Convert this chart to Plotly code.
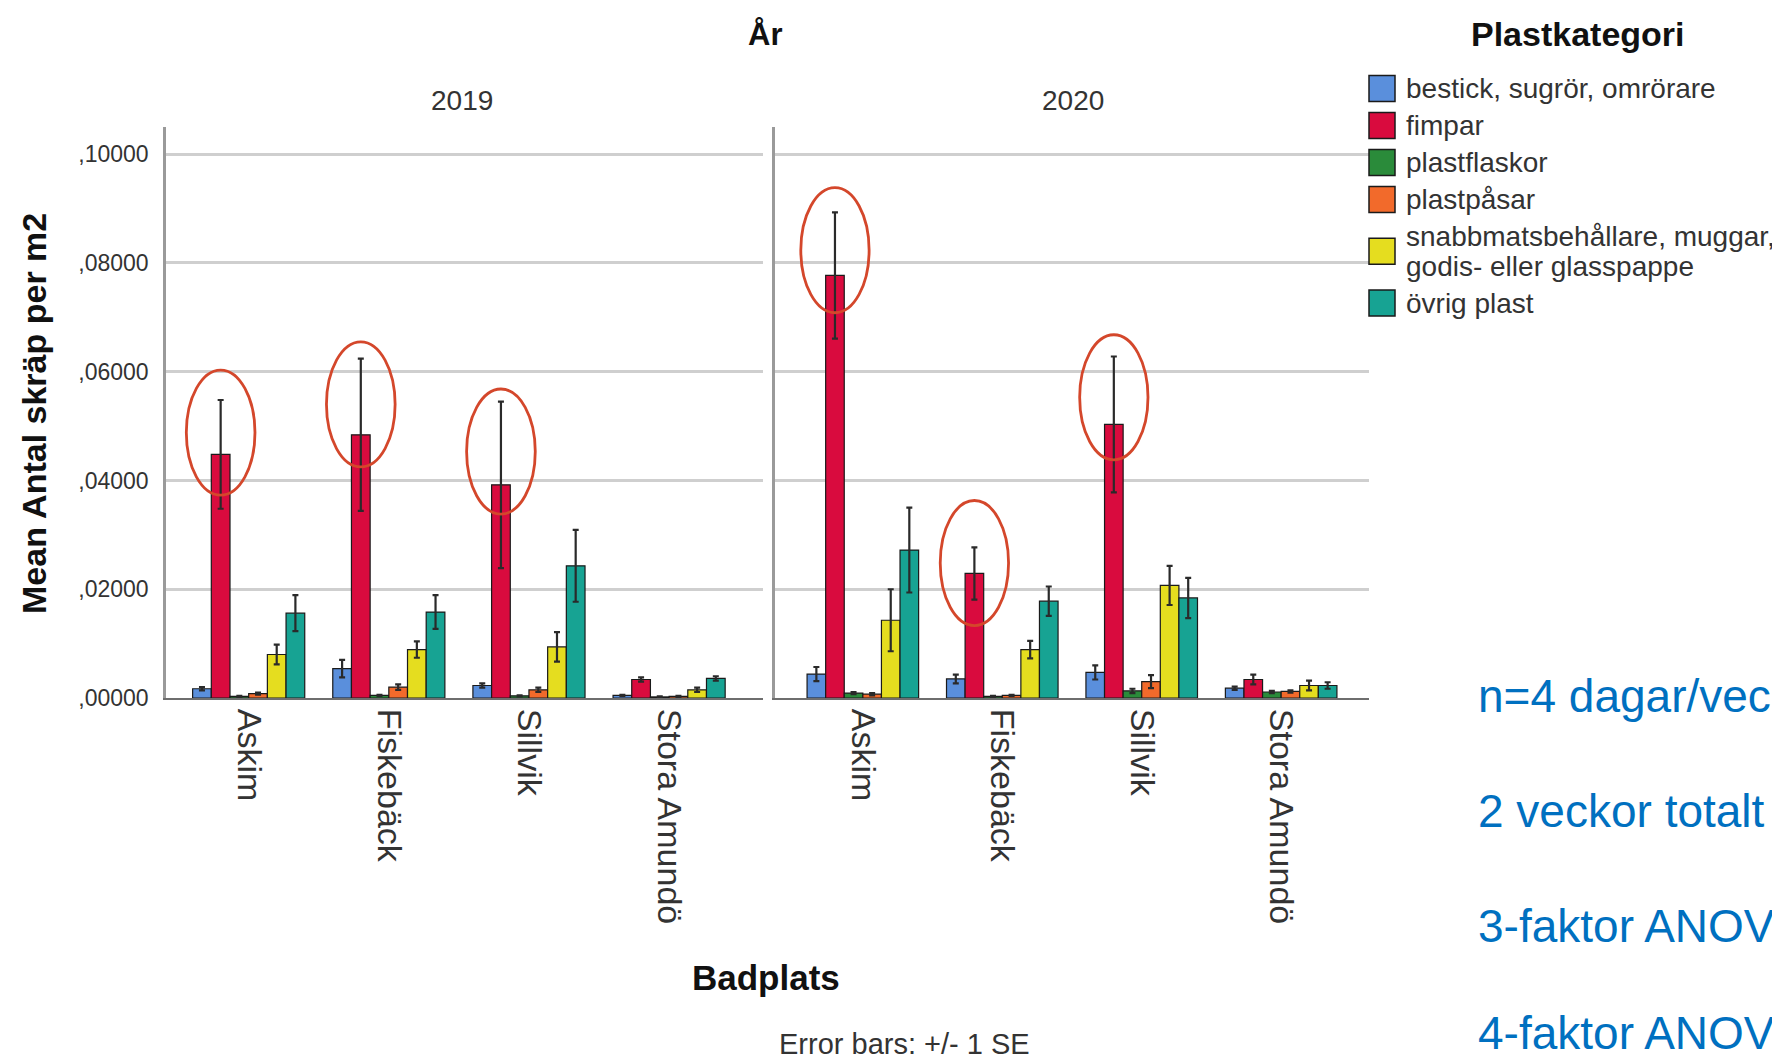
import plotly.graph_objects as go

# ---------------- data ----------------
badplatser = ["Askim", "Fiskebäck", "Sillvik", "Stora Amundö"]
years = ["2019", "2020"]
plastkategorier = [
    "bestick, sugrör, omrörare",
    "fimpar",
    "plastflaskor",
    "plastpåsar",
    "snabbmatsbehållare, muggar,<br>godis- eller glasspappe",
    "övrig plast",
]
colors = ["#5a8fdc", "#d90b3e", "#2a8b3a", "#f26a2b", "#e5dd1f", "#17a393"]

# rows = plastkategori, columns = badplats
means_2019 = [
    [0.0017, 0.0054, 0.0023, 0.0005],
    [0.0448, 0.0484, 0.0392, 0.0034],
    [0.0003, 0.0005, 0.0004, 0.0002],
    [0.0008, 0.0020, 0.0015, 0.0003],
    [0.0080, 0.0089, 0.0094, 0.0015],
    [0.0156, 0.0158, 0.0243, 0.0036],
]
se_2019 = [
    [0.0003, 0.0016, 0.0004, 0.0001],
    [0.0100, 0.0140, 0.0153, 0.0004],
    [0.0001, 0.0001, 0.0001, 0.0001],
    [0.0002, 0.0005, 0.0004, 0.0001],
    [0.0018, 0.0015, 0.0027, 0.0004],
    [0.0033, 0.0031, 0.0066, 0.0004],
]
means_2020 = [
    [0.0044, 0.0035, 0.0047, 0.0018],
    [0.0777, 0.0229, 0.0503, 0.0034],
    [0.0009, 0.0003, 0.0013, 0.0011],
    [0.0007, 0.0005, 0.0030, 0.0012],
    [0.0143, 0.0089, 0.0207, 0.0023],
    [0.0272, 0.0178, 0.0184, 0.0023],
]
se_2020 = [
    [0.0013, 0.0008, 0.0013, 0.0003],
    [0.0116, 0.0048, 0.0125, 0.0009],
    [0.0002, 0.0001, 0.0004, 0.0002],
    [0.0002, 0.0001, 0.0012, 0.0002],
    [0.0057, 0.0016, 0.0036, 0.0009],
    [0.0078, 0.0027, 0.0037, 0.0006],
]

y_tickvals = [0.0, 0.02, 0.04, 0.06, 0.08, 0.10]
y_ticktext = [",00000", ",02000", ",04000", ",06000", ",08000", ",10000"]

# bars highlighted with red ellipses (fimpar)
circled = {"2019": ["Askim", "Fiskebäck", "Sillvik"],
           "2020": ["Askim", "Fiskebäck", "Sillvik"]}
circled_category_index = 1  # fimpar

# side notes (the reference shows them cut at the slide's right edge)
side_notes = ["n=4 dagar/vec", "2 veckor totalt", "3-faktor ANOV", "4-faktor ANOV"]

# ---------------- layout helpers ----------------
W, H = 1780, 1061
PAGE_OFF = 8  # default body margin of the html page
L, R, T, B = 166, 1369, 127, 698  # plot area in screen pixels
FONT = "Liberation Sans, Arial, sans-serif"


def px(x):
    return (x - L) / (R - L)


def py(y):
    return (B - y) / (B - T)


fig = go.Figure()

year_data = {"2019": (means_2019, se_2019, "x", "y"),
             "2020": (means_2020, se_2020, "x2", "y2")}

for yr in years:
    means, ses, xa, ya = year_data[yr]
    for i, cat in enumerate(plastkategorier):
        fig.add_trace(go.Bar(
            x=badplatser, y=means[i],
            error_y=dict(type="data", array=ses[i], color="#2a2a2a",
                         thickness=2.2, width=3),
            marker=dict(color=colors[i], line=dict(color="#1a1a1a", width=1.2)),
            name=cat.replace("<br>", " "), showlegend=False, xaxis=xa, yaxis=ya,
        ))

n_cat = len(plastkategorier)
bargap = 0.2
bar_w = (1 - bargap) / n_cat
offset = -(1 - bargap) / 2 + bar_w * (circled_category_index + 0.5)

shapes = []
for yr in years:
    means, ses, xa, ya = year_data[yr]
    for place in circled[yr]:
        j = badplatser.index(place)
        m = means[circled_category_index][j]
        s = ses[circled_category_index][j]
        cx = j + offset
        cy = m + 0.4 * s
        shapes.append(dict(type="circle", xref=xa, yref=ya,
                           x0=cx - 0.245, x1=cx + 0.245,
                           y0=cy - 0.0115, y1=cy + 0.0115,
                           line=dict(color="#d4472b", width=2.8),
                           layer="above"))


def ann(text, x, y, size, color="#333333", xanchor="center", **kw):
    return dict(text=text, x=px(x), y=py(y), xref="paper", yref="paper",
                xanchor=xanchor, yanchor="middle", showarrow=False,
                font=dict(family=kw.pop("family", FONT), size=size, color=color), **kw)


# manual legend
annotations = []
top = 70
ROW_H = 37
LINE_H = 29.5
for lab, col in zip(plastkategorier, colors):
    lines = lab.split("<br>")
    h = ROW_H + LINE_H * (len(lines) - 1)
    cy = top + h / 2
    shapes.append(dict(type="rect", xref="paper", yref="paper",
                       x0=px(1369), x1=px(1395), y0=py(cy + 13), y1=py(cy - 13),
                       fillcolor=col, line=dict(color="#1a1a1a", width=1.5)))
    first = cy - LINE_H * (len(lines) - 1) / 2
    for k, line in enumerate(lines):
        annotations.append(ann(line, 1404, first + k * LINE_H, 28, xanchor="left"))
    top += h

annotations += [
    ann("<b>Plastkategori</b>", 1578, 34, 34, "#111111"),
    ann("<b>År</b>", 765, 34, 31, "#111111"),
    ann("2019", 462, 100, 28),
    ann("2020", 1073, 100, 28),
    ann("<b>Mean Antal skräp per m2</b>", 34, 414, 34, "#111111", textangle=-90),
    ann("<b>Badplats</b>", 766, 977, 35, "#111111"),
    ann("Error bars: +/- 1 SE", 904, 1044, 29),
]

note_y = [696, 811, 926, 1033]
for txt, yy in zip(side_notes, note_y):
    annotations.append(ann(txt, 1476, yy, 46, "#0070c0", xanchor="left"))

xaxis_common = dict(
    type="category", showline=True, linecolor="#6e6e6e",
    linewidth=2, showgrid=False, zeroline=False, ticks="", tickangle=90,
    tickfont=dict(family=FONT, size=34, color="#333333"), ticklabelstandoff=2,
)
yaxis_common = dict(
    range=[0, 0.105], tickvals=y_tickvals, ticktext=y_ticktext, showgrid=True,
    gridcolor="#cfcfcf", gridwidth=2.5, zeroline=False, showline=True,
    linecolor="#9a9a9a", linewidth=2.5, ticks="",
)

fig.update_layout(
    width=W, height=H,
    margin=dict(l=L - PAGE_OFF, r=W - (R - PAGE_OFF), t=T - PAGE_OFF,
                b=H - (B - PAGE_OFF), pad=0),
    paper_bgcolor="white", plot_bgcolor="white",
    barmode="group", bargap=bargap, bargroupgap=0,
    showlegend=False,
    xaxis=dict(domain=[0, px(763)], anchor="y", range=[-0.59, 3.67], **xaxis_common),
    xaxis2=dict(domain=[px(775), 1], anchor="y2", range=[-0.63, 3.63], **xaxis_common),
    yaxis=dict(anchor="x", tickfont=dict(family=FONT, size=23, color="#333333"),
               ticklabelstandoff=10, **yaxis_common),
    yaxis2=dict(anchor="x2", matches="y", showticklabels=False, **yaxis_common),
    shapes=shapes, annotations=annotations,
)

fig.write_html("out.html")
